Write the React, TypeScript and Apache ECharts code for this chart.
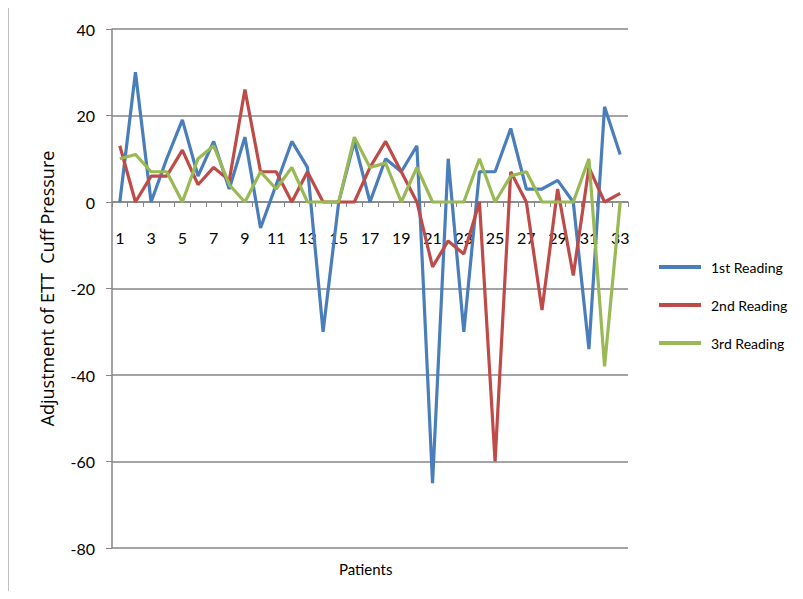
import React, { useEffect, useRef } from "react";
import * as echarts from "echarts";

const categories = Array.from({ length: 33 }, (_, i) => String(i + 1));
const reading1 = [0, 30, 0, 10, 19, 6, 14, 3, 15, -6, 4, 14, 8, -30, 0, 14, 0, 10, 7, 13, -65, 10, -30, 7, 7, 17, 3, 3, 5, 0, -34, 22, 11];
const reading2 = [13, 0, 6, 6, 12, 4, 8, 5, 26, 7, 7, 0, 7, 0, 0, 0, 8, 14, 7, 0, -15, -9, -12, 0, -60, 7, 0, -25, 3, -17, 8, 0, 2];
const reading3 = [10, 11, 7, 7, 0, 10, 13, 4, 0, 7, 3, 8, 0, 0, 0, 15, 8, 9, 0, 8, 0, 0, 0, 10, 0, 6, 7, 0, 0, 0, 10, -38, 0];
const seriesNames = ["1st Reading", "2nd Reading", "3rd Reading"];
const colors = ["#4A7EBB", "#BE4B48", "#98B954"];

const yMin = -80;
const yMax = 40;

export default function App() {
  const ref = useRef<HTMLDivElement>(null);
  useEffect(() => {
    if (!ref.current) return;
    const chart = echarts.init(ref.current, null, { renderer: "svg" });
    const data = [reading1, reading2, reading3];
    const gridTop = 21;
    const gridBottom = 43;
    const H = 583;
    const plotH = H - gridTop - gridBottom;
    const zeroOffset = -(plotH * (0 - yMin)) / (yMax - yMin);
    chart.setOption({
      animation: false,
      backgroundColor: "#ffffff",
      grid: { left: 104, right: 167, top: gridTop, bottom: gridBottom, containLabel: false },
      graphic: [
        {
          type: "rect",
          shape: { x: 0.5, y: -0.5, width: 820, height: 620 },
          style: { fill: "none", stroke: "#bfbfbf", lineWidth: 1 },
          silent: true,
        },
        {
          type: "text",
          left: 331,
          top: 553,
          style: { text: "Patients", font: "15px Lato, sans-serif", fill: "#000" },
        },
      ],
      legend: {
        orient: "vertical",
        left: 646,
        top: 247,
        itemWidth: 42,
        itemHeight: 4,
        itemGap: 24,
        icon: "rect",
        textStyle: { fontFamily: "Lato", fontSize: 14, color: "#000", padding: [0, 0, 0, 5] },
        data: seriesNames,
      },
      xAxis: {
        type: "category",
        data: categories,
        boundaryGap: true,
        offset: zeroOffset,
        axisLine: { onZero: false, lineStyle: { color: "#868686", width: 1.5 } },
        axisTick: { show: true, length: 5, interval: 0, lineStyle: { color: "#868686" } },
        axisLabel: {
          interval: 1,
          margin: 27,
          fontSize: 16,
          fontFamily: "Lato",
          color: "#000",
        },
        splitLine: { show: false },
      },
      yAxis: {
        type: "value",
        min: yMin,
        max: yMax,
        interval: 20,
        name: "Adjustment of ETT  Cuff Pressure",
        nameLocation: "middle",
        nameGap: 56,
        nameRotate: 90,
        nameTextStyle: { fontFamily: "Open Sans", fontSize: 18, color: "#000" },
        axisLine: { show: true, lineStyle: { color: "#868686", width: 1.5 } },
        axisTick: { show: true, length: 6, lineStyle: { color: "#868686" } },
        axisLabel: {
          fontSize: 16,
          margin: 17,
          fontFamily: "Lato",
          color: "#000",
        },
        splitLine: { show: true, lineStyle: { color: "#868686", width: 1.5 } },
      },
      series: seriesNames.map((name, i) => ({
        name,
        type: "line",
        data: data[i],
        showSymbol: false,
        symbol: "none",
        lineStyle: { color: colors[i], width: 3.2 },
        itemStyle: { color: colors[i] },
      })),
    });
    return () => chart.dispose();
  }, []);
  return <div ref={ref} style={{ width: 787, height: 583 }} />;
}
